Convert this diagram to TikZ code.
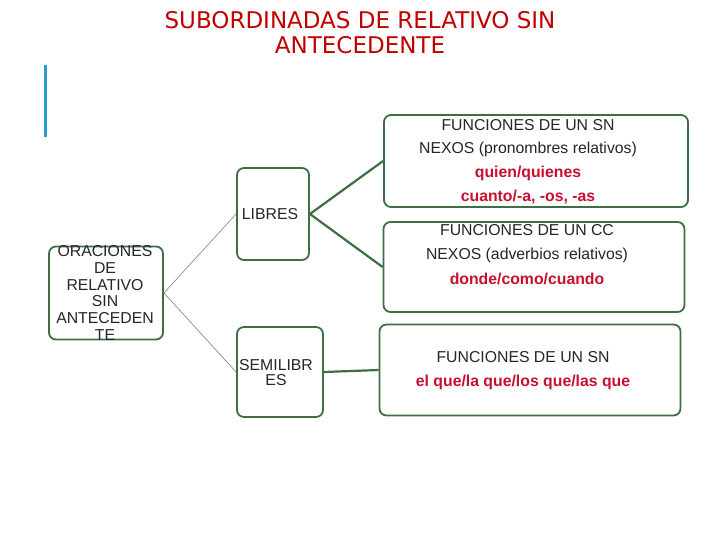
\documentclass[tikz,border=0pt]{standalone}
\usepackage{fontspec}
\setmainfont{Liberation Sans}
\newfontfamily\titlefont{DejaVu Sans}
\definecolor{gbox}{HTML}{3E6E42}
\definecolor{tred}{HTML}{C00000}
\definecolor{kred}{HTML}{C8102E}
\definecolor{bbar}{HTML}{2E9BD6}
\begin{document}
\begin{tikzpicture}[x=1pt,y=-1pt,
  box/.style={draw=gbox,line width=1.8pt,rounded corners=7pt,inner sep=0pt,fill=white},
  txt/.style={inner sep=0pt,font=\fontsize{15.8}{18}\selectfont,text=black!85},
  kw/.style={inner sep=0pt,font=\fontsize{15.8}{18}\selectfont\bfseries,text=kred},
  thin/.style={draw=gray,line width=0.6pt},
  thick/.style={draw=gbox,line width=2.2pt}]
\useasboundingbox (0,0) rectangle (720,540);
\node[inner sep=0pt,font=\titlefont\fontsize{23}{25}\selectfont,text=tred,align=center] (title) at (360,33) {SUBORDINADAS DE RELATIVO SIN\\ANTECEDENTE};
\draw[bbar,line width=3pt] (45,65) coordinate (b1) -- (45,137) coordinate (b2);
\node[box,minimum width=114pt,minimum height=93pt] (root) at (106,293) {};
\node[box,minimum width=72pt,minimum height=92pt] (lib) at (273,214) {};
\node[box,minimum width=86pt,minimum height=90pt] (semi) at (280,372) {};
\node[box,minimum width=304pt,minimum height=92pt] (b1) at (536,161) {};
\node[box,minimum width=301pt,minimum height=90pt] (b2) at (534,267) {};
\node[box,minimum width=301pt,minimum height=91pt] (b3) at (530,370) {};
\draw[thin] (root.east) -- (lib.west);
\draw[thin] (root.east) -- (semi.west);
\draw[thick] (lib.east) -- (b1.west);
\draw[thick] (lib.east) -- (b2.west);
\draw[thick] (semi.east) -- (b3.west);
\node[txt,align=center,font=\fontsize{15.8}{16.8}\selectfont] (rt) at (105,293) {ORACIONES\\DE\\RELATIVO\\SIN\\ANTECEDEN\\TE};
\node[txt] (lt) at (270,214) {LIBRES};
\node[txt,align=center,font=\fontsize{15.8}{15}\selectfont] (st) at (276,373) {SEMILIBR\\ES};
\node[txt] (t11) at (528,125) {FUNCIONES DE UN SN};
\node[txt] (t12) at (528,149) {NEXOS (pronombres relativos)};
\node[kw] (t13) at (528,173) {quien/quienes};
\node[kw] (t14) at (528,197) {cuanto/-a, -os, -as};
\node[txt] (t21) at (527,230) {FUNCIONES DE UN CC};
\node[txt] (t22) at (527,255) {NEXOS (adverbios relativos)};
\node[kw] (t23) at (527,279) {donde/como/cuando};
\node[txt] (t31) at (523,357) {FUNCIONES DE UN SN};
\node[kw] (t32) at (523,382) {el que/la que/los que/las que};
\end{tikzpicture}
\end{document}
